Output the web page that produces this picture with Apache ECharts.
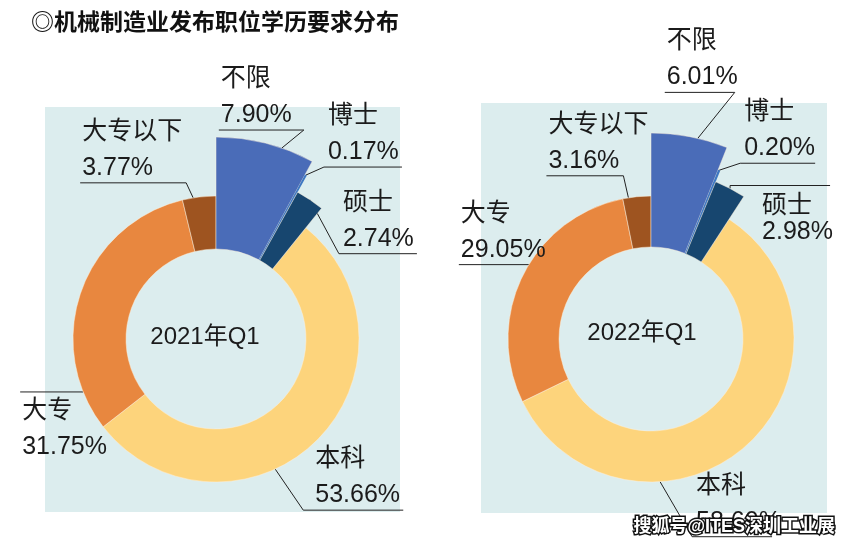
<!DOCTYPE html>
<html><head><meta charset="utf-8">
<script src="https://cdn.jsdelivr.net/npm/echarts@6/dist/echarts.min.js"></script>
<style>html,body{margin:0;padding:0;background:#fff}#c{width:851px;height:544px}</style>
</head><body><div id="c"></div>
<script>
const titleText = '◎机械制造业发布职位学历要求分布';
const categories = ['不限', '博士', '硕士', '本科', '大专', '大专以下'];
const periods = ['2021年Q1', '2022年Q1'];
const values2021 = [7.90, 0.17, 2.74, 53.66, 31.75, 3.77];
const values2022 = [6.01, 0.20, 2.98, 58.60, 29.05, 3.16];
const watermark = '搜狐号@ITES深圳工业展';

const colors = ['#4a6cb8', '#3f78c2', '#17466f', '#fdd47c', '#e8873f', '#9e5420'];
const FONT = "'Liberation Sans','Noto Sans CJK SC',sans-serif";
// layer of each category: 0 = base ring, 1..3 = raised slices
const layerOf = [1, 2, 3, 0, 0, 0];

const charts = [
  {
    values: values2021, center: [216, 339], inner: 90, outer: [143, 202, 187, 168],
    panel: [45, 107, 355, 405], textPos: [205, 337],
    hints: [
      {rot: 4.8, off: [22, -18], side: 'L', len: 85, pos: 'above'},
      {rot: 0, off: [18, -8], side: 'R', len: 78, pos: 'above'},
      {rot: 0, off: [29, 54], side: 'R', len: 78, pos: 'above'},
      {rot: 20, off: [28, 41], side: 'R', len: 100, pos: 'above', tdx: 8},
      {rot: -41, off: [0, 0], side: 'L', len: 63, pos: 'below'},
      {rot: -2.4, off: [-7, -15], side: 'L', len: 106, pos: 'above'}
    ]
  },
  {
    values: values2022, center: [651, 339], inner: 92, outer: [143, 206, 182, 170],
    panel: [481, 103, 346, 410], textPos: [642, 333],
    hints: [
      {rot: 2.3, off: [37, -46], side: 'L', len: 70, pos: 'above'},
      {rot: 0, off: [21, -7], side: 'R', len: 75, pos: 'above'},
      {rot: 0, off: [0, -3], side: 'R', len: 100, pos: 'below', lh: 26, gap: 8, tdx: 28},
      {rot: 37.8, off: [32, 55], side: 'R', len: 80, pos: 'above'},
      {rot: 5, off: [0, 0], side: 'L', len: 70, pos: 'above'},
      {rot: -3.4, off: [-5, -22], side: 'L', len: 77, pos: 'above'}
    ]
  }
];

function makeLayout(k) {
  return function (p) {
    const ch = charts[k];
    const h = ch.hints[p.dataIndex];
    const pts = p.labelLinePoints;
    if (!pts || !h) return {};
    const c = ch.center;
    const x0 = pts[0][0] - c[0], y0 = pts[0][1] - c[1];
    const t = h.rot * Math.PI / 180;
    const ax = c[0] + x0 * Math.cos(t) - y0 * Math.sin(t);
    const ay = c[1] + x0 * Math.sin(t) + y0 * Math.cos(t);
    const kx = ax + h.off[0], ky = ay + h.off[1];
    const ex = h.side === 'L' ? kx - h.len : kx + h.len;
    const tx = (h.side === 'L' ? ex + 2 : kx + 4) + (h.tdx || 0);
    const above = h.pos === 'above';
    const gap = h.gap != null ? h.gap : (above ? 3 : 1);
    return {
      x: tx,
      y: ky + gap,
      align: 'left',
      verticalAlign: above ? 'bottom' : 'top',
      labelLinePoints: [[ax, ay], [kx, ky], [ex, ky]]
    };
  };
}

const series = [];
charts.forEach((ch, k) => {
  for (let L = 0; L < 4; L++) {
    series.push({
      type: 'pie',
      center: ch.center,
      radius: [ch.inner, ch.outer[L]],
      startAngle: 90,
      clockwise: true,
      avoidLabelOverlap: false,
      animation: false,
      silent: true,
      z: 2 + L,
      label: {
        position: 'outside',
        formatter: p => p.name + '\n' + p.value.toFixed(2) + '%',
        fontSize: 25, lineHeight: 36, color: '#1b1b1b', fontFamily: FONT
      },
      labelLine: {show: true, length: 10, length2: 10, lineStyle: {color: '#222', width: 1}},
      labelLayout: makeLayout(k),
      data: categories.map((name, i) => {
        const on = layerOf[i] === L;
        const h = ch.hints[i];
        const lbl = {show: on};
        if (h.lh) lbl.lineHeight = h.lh;
        return {
          name: name,
          value: ch.values[i],
          itemStyle: {
            color: on ? colors[i] : 'rgba(0,0,0,0)',
            borderColor: on && i !== 1 ? 'rgba(255,240,220,0.6)' : 'rgba(0,0,0,0)',
            borderWidth: on && i !== 1 ? 0.8 : 0
          },
          label: lbl,
          labelLine: {show: on}
        };
      })
    });
  }
});

const graphics = [];
charts.forEach((ch, k) => {
  graphics.push({
    type: 'rect', z: -10, silent: true,
    shape: {x: ch.panel[0], y: ch.panel[1], width: ch.panel[2], height: ch.panel[3]},
    style: {fill: '#dcedee'}
  });
  graphics.push({
    type: 'text', z: 10, silent: true, x: ch.textPos[0], y: ch.textPos[1],
    style: {
      text: periods[k], fill: '#1b1b1b', font: '24px ' + FONT,
      textAlign: 'center', textVerticalAlign: 'middle', align: 'center', verticalAlign: 'middle'
    }
  });
});
graphics.push({
  type: 'text', z: 100, zlevel: 1, silent: true, x: 835, y: 527,
  style: {
    text: watermark, fill: '#ffffff', stroke: '#111111', lineWidth: 3, strokeFirst: true,
    font: 'bold 18px ' + FONT,
    textAlign: 'right', textVerticalAlign: 'middle', align: 'right', verticalAlign: 'middle'
  }
});

const chart = echarts.init(document.getElementById('c'), null, {renderer: 'canvas'});
chart.setOption({
  backgroundColor: '#ffffff',
  animation: false,
  title: {
    text: titleText, left: 26, top: 5,
    textStyle: {fontSize: 23, fontWeight: 'bold', color: '#111', fontFamily: "'Noto Sans CJK SC',sans-serif"}
  },
  graphic: {elements: graphics},
  series: series
});
</script>
</body></html>
